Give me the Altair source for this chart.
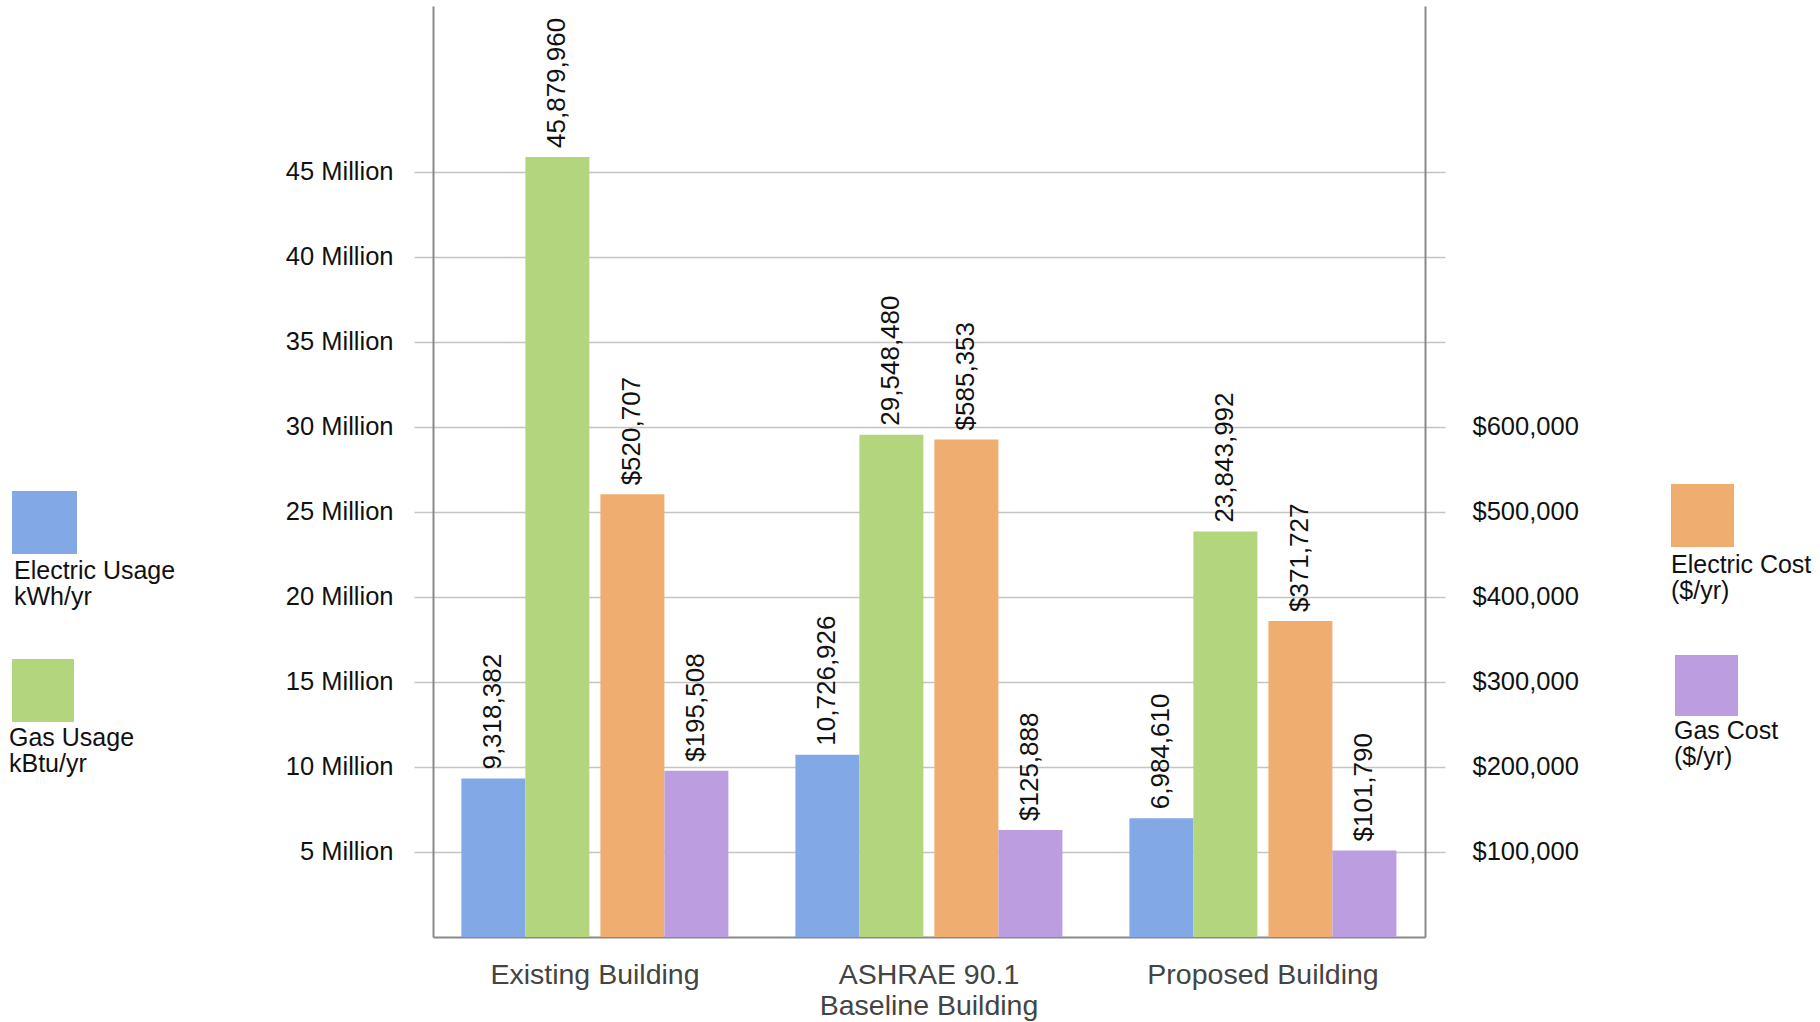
import altair as alt
import pandas as pd

# ---- data ----
buildings = ["Existing Building", "ASHRAE 90.1 Baseline Building", "Proposed Building"]
usage_series = ["Electric Usage", "Gas Usage"]
cost_series = ["Electric Cost", "Gas Cost"]
electric_usage = [9318382, 10726926, 6984610]     # kWh/yr
gas_usage = [45879960, 29548480, 23843992]        # kBtu/yr
electric_cost = [520707, 585353, 371727]          # $/yr
gas_cost = [195508, 125888, 101790]               # $/yr
left_ticks = [5e6, 10e6, 15e6, 20e6, 25e6, 30e6, 35e6, 40e6, 45e6]
right_ticks = [100000, 200000, 300000, 400000, 500000, 600000, 700000, 800000, 900000]
legend_labels = ["Electric Usage\nkWh/yr", "Gas Usage\nkBtu/yr", "Electric Cost\n($/yr)", "Gas Cost\n($/yr)"]
colors = ["#82A8E5", "#B3D57D", "#EFAD6F", "#BB9DE0"]

usage_df = pd.DataFrame(
    [{"building": b, "series": "Electric Usage", "value": v} for b, v in zip(buildings, electric_usage)]
    + [{"building": b, "series": "Gas Usage", "value": v} for b, v in zip(buildings, gas_usage)]
)
cost_df = pd.DataFrame(
    [{"building": b, "series": "Electric Cost", "value": v} for b, v in zip(buildings, electric_cost)]
    + [{"building": b, "series": "Gas Cost", "value": v} for b, v in zip(buildings, gas_cost)]
)
all_series = usage_series + cost_series
legend_df = pd.DataFrame({"series": all_series, "label": legend_labels})

FONT = "Liberation Sans"
GRID = "#c4c4c4"
DOMAIN = "#8a8a8a"

x_enc = alt.X(
    "building:N",
    sort=buildings,
    scale=alt.Scale(domain=buildings, paddingInner=0.2, paddingOuter=0.085),
    axis=alt.Axis(
        title=None, ticks=False, labelAngle=0, labelFontSize=28.5, labelColor="#444444",
        labelFont=FONT, labelPadding=23, labelLineHeight=31, labelLimit=0,
        domainColor=DOMAIN, domainWidth=2,
        labelExpr="datum.label == 'ASHRAE 90.1 Baseline Building' ? ['ASHRAE 90.1', 'Baseline Building'] : datum.label",
    ),
)

color_enc = alt.Color("series:N", scale=alt.Scale(domain=all_series, range=colors), legend=None)

y_usage = alt.Y(
    "value:Q",
    scale=alt.Scale(domain=[0, 54.76e6], nice=False),
    axis=alt.Axis(
        orient="left", title=None, values=left_ticks,
        labelExpr="(datum.value / 1000000) + ' Million'",
        grid=True, gridColor=GRID, gridWidth=1.5,
        tickColor=GRID, tickWidth=1.5, tickSize=19, labelPadding=21,
        labelFontSize=25.5, labelFont=FONT, labelColor="#111111",
        domainColor=DOMAIN, domainWidth=2,
    ),
)
y_cost = alt.Y(
    "value:Q",
    scale=alt.Scale(domain=[0, 1095200], nice=False),
    axis=alt.Axis(
        orient="right", title=None, values=right_ticks,
        labelExpr="datum.value <= 600000 ? format(datum.value, '$,') : ''",
        grid=False, tickColor=GRID, tickWidth=1.5, tickSize=20, labelPadding=27,
        labelFontSize=25.5, labelFont=FONT, labelColor="#111111",
        domainColor=DOMAIN, domainWidth=2,
    ),
)

usage_base = alt.Chart(usage_df).encode(
    x=x_enc,
    xOffset=alt.XOffset("series:N", scale=alt.Scale(domain=usage_series, paddingInner=0, paddingOuter=0, range=[0, 128])),
    y=y_usage,
)
usage_layer = alt.layer(
    usage_base.mark_bar().encode(color=color_enc),
    usage_base.mark_text(angle=270, align="left", baseline="middle", dx=9, fontSize=26, font=FONT, color="#111111")
    .encode(text=alt.Text("value:Q", format=",")),
)

cost_base = alt.Chart(cost_df).encode(
    x=x_enc,
    xOffset=alt.XOffset("series:N", scale=alt.Scale(domain=cost_series, paddingInner=0, paddingOuter=0, range=[139, 267])),
    y=y_cost,
)
cost_layer = alt.layer(
    cost_base.mark_bar().encode(color=color_enc),
    cost_base.mark_text(angle=270, align="left", baseline="middle", dx=9, fontSize=26, font=FONT, color="#111111")
    .encode(text=alt.Text("value:Q", format="$,")),
)

# legend swatches and labels (placed in the margins, relative to plot origin)
legend_pos = {
    "Electric Usage": dict(sx=(-421, -356), sy=(485, 548), tx=-419, ty=553),
    "Gas Usage": dict(sx=(-421, -359), sy=(653, 716), tx=-424, ty=720),
    "Electric Cost": dict(sx=(1238, 1301), sy=(478, 541), tx=1238, ty=547),
    "Gas Cost": dict(sx=(1242, 1305), sy=(649, 710), tx=1241, ty=713),
}
legend_layers = []
for s in all_series:
    p = legend_pos[s]
    base = alt.Chart(legend_df).transform_filter(alt.datum.series == s)
    legend_layers.append(
        base.mark_rect().encode(
            x=alt.value(p["sx"][0]), x2=alt.value(p["sx"][1]),
            y=alt.value(p["sy"][0]), y2=alt.value(p["sy"][1]),
            color=color_enc,
        )
    )
    legend_layers.append(
        base.mark_text(align="left", baseline="top", lineBreak="\n", fontSize=25, lineHeight=26,
                       font=FONT, color="#111111")
        .encode(x=alt.value(p["tx"]), y=alt.value(p["ty"]), text="label:N")
    )

chart = (
    alt.layer(usage_layer, cost_layer, *legend_layers)
    .resolve_scale(y="independent", xOffset="independent")
    .properties(
        width=992, height=931,
        autosize=alt.AutoSizeParams(type="none"),
        padding={"left": 433, "top": 6, "right": 395, "bottom": 85},
        background="white",
    )
    .configure_view(stroke=None)
)

chart.save("out.html", embed_options={"renderer": "svg", "actions": False})
